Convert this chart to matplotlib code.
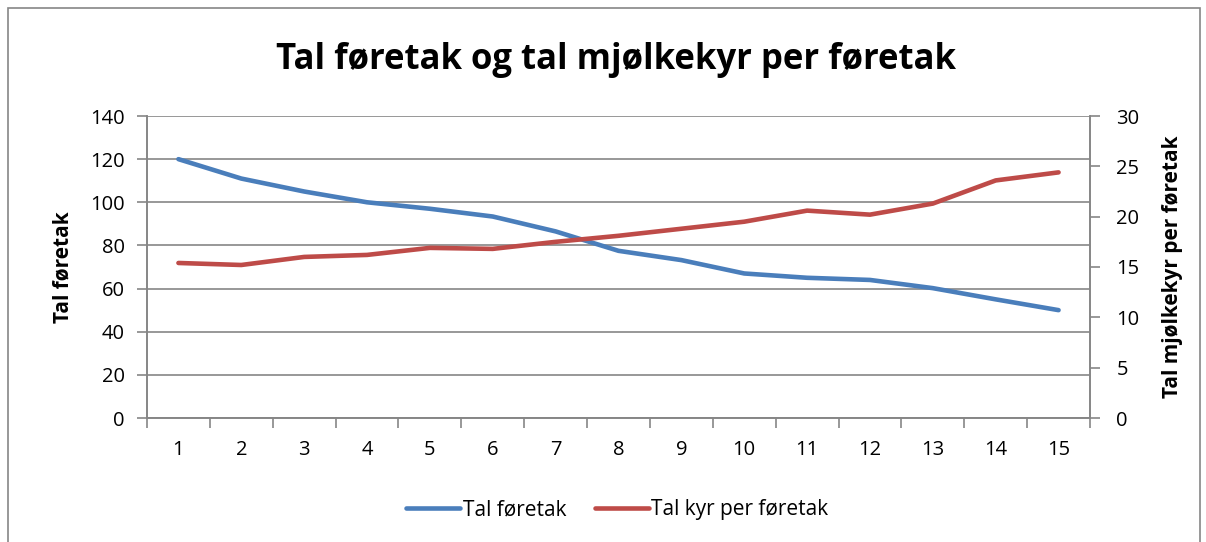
import matplotlib
matplotlib.use("Agg")
import matplotlib.pyplot as plt
from matplotlib.patches import Rectangle

# Data
years = list(range(1, 16))
tal_foretak = [120, 111, 105, 100, 97, 93.4, 86.5, 77.5, 73.2, 67, 65, 64, 60.2, 55, 50]
kyr_per_foretak = [15.4, 15.2, 16.0, 16.2, 16.9, 16.8, 17.5, 18.1, 18.8, 19.5, 20.6, 20.2, 21.3, 23.6, 24.4]

BLUE = "#4A7EBB"
RED = "#BE4B48"
GRID = "#868686"

plt.rcParams["font.family"] = ["Open Sans", "DejaVu Sans"]

fig = plt.figure(figsize=(12.06, 5.42), dpi=100)
ax = fig.add_axes([147 / 1206, 1 - 418 / 542, (1090 - 147) / 1206, (418 - 116) / 542])
ax2 = ax.twinx()

l1, = ax.plot(years, tal_foretak, color=BLUE, lw=3.3, solid_capstyle="round", label="Tal føretak")
l2, = ax2.plot(years, kyr_per_foretak, color=RED, lw=3.3, solid_capstyle="round", label="Tal kyr per føretak")

ax.set_xlim(0.5, 15.5)
ax.set_ylim(0, 140)
ax.set_yticks(range(0, 141, 20))
ax2.set_ylim(0, 30)
ax2.set_yticks(range(0, 31, 5))
ax.set_xticks(years)
ax.set_xticks([x + 0.5 for x in range(0, 16)], minor=True)
ax.tick_params(axis="x", which="major", length=0, pad=16, labelsize=14.5)
ax.tick_params(axis="x", which="minor", length=7, width=1.2, color=GRID, direction="out")
ax.tick_params(axis="y", length=7, width=1.2, color=GRID, labelsize=14.5, pad=9)
ax2.tick_params(axis="y", length=7, width=1.2, color=GRID, labelsize=14.5, pad=12)

ax.grid(axis="y", color=GRID, lw=1.2)
ax.set_axisbelow(True)
for a in (ax, ax2):
    a.spines["top"].set_visible(False)
    for s in ("left", "right", "bottom"):
        a.spines[s].set_color(GRID)
        a.spines[s].set_linewidth(1.2)

ax.set_ylabel("Tal føretak", fontsize=15, fontweight="bold", labelpad=12)
ax2.set_ylabel("Tal mjølkekyr per føretak", fontsize=15, fontweight="bold", labelpad=16)

fig.text(0.511, 1 - 60 / 542, "Tal føretak og tal mjølkekyr per føretak",
         ha="center", va="center", fontsize=25, fontweight="bold")

fig.legend(handles=[l1, l2], loc="center", bbox_to_anchor=(0.512, 1 - 510 / 542),
           ncol=2, frameon=False, fontsize=15, handlelength=2.6, columnspacing=1.4,
           handletextpad=0.1)

fig.patches.append(Rectangle((8 / 1206, -0.01), 1192 / 1206, 1 - 8 / 542 + 0.01,
                             transform=fig.transFigure, fill=False,
                             edgecolor=GRID, lw=1.2))

fig.savefig("out.png", dpi=100)
